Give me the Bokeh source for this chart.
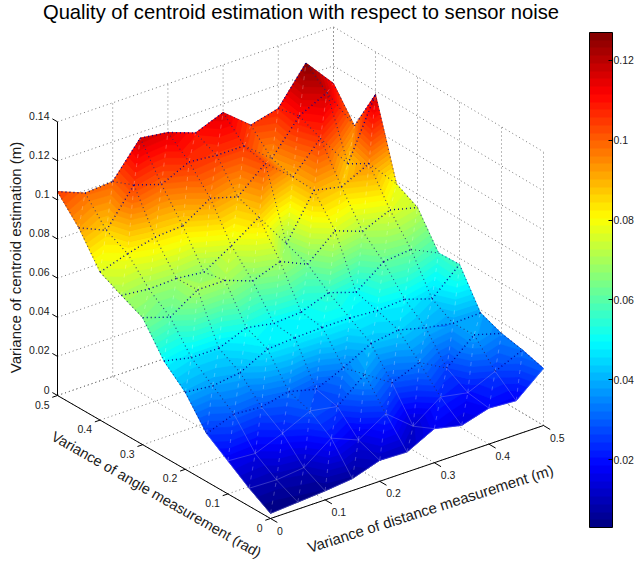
import math
from bokeh.plotting import figure
from bokeh.embed import file_html
from bokeh.resources import INLINE
from bokeh.core.properties import value
from bokeh.models import Range1d, ColorBar, LinearColorMapper, FixedTicker

x_grid = [0.0, 0.05, 0.1, 0.15, 0.2, 0.25, 0.3, 0.35, 0.4, 0.45, 0.5]
y_grid = [0.0, 0.05, 0.1, 0.15, 0.2, 0.25, 0.3, 0.35, 0.4, 0.45, 0.5]
z_y00 = [.0026, .0036, .0046, .0061, .0107, .0102, .0174, .0143, .0184, .0174, .0292]
z_y05 = [.0092, .0087, .0102, .0205, .0148, .0235, .0123, .0225, .0199, .0261, .0322]
z_y10 = [.0169, .0159, .0215, .0281, .0256, .0373, .0281, .0338, .0261, .0384, .0343]
z_y15 = [.0246, .0297, .0286, .0317, .0281, .0343, .0419, .0440, .0404, .0379, .0384]
z_y20 = [.0394, .0379, .0399, .0471, .0481, .0486, .0486, .0476, .0486, .0440, .0568]
z_y25 = [.0491, .0460, .0460, .0517, .0491, .0501, .0552, .0506, .0614, .0629, .0563]
z_y30 = [.0650, .0604, .0696, .0696, .0645, .0696, .0634, .0757, .0706, .0767, .0731]
z_y35 = [.0701, .0685, .0691, .0675, .0762, .0859, .0675, .0900, .0870, .0941, .0788]
z_y40 = [.0757, .0803, .0839, .0849, .0941, .0900, .1023, .0905, .1054, .0875, .1182]
z_y45 = [.0921, .0859, .1043, .0997, .1064, .1049, .1049, .0936, .1105, .1176, .0957]
z_y50 = [.1043, .0987, .0997, .1171, .1151, .1100, .1156, .1043, .1079, .1263, .1110]
z_rows = [z_y00, z_y05, z_y10, z_y15, z_y20, z_y25, z_y30, z_y35, z_y40, z_y45, z_y50]

x_ticks = [0, 0.1, 0.2, 0.3, 0.4, 0.5]
x_tick_labels = ["0", "0.1", "0.2", "0.3", "0.4", "0.5"]
y_ticks = [0, 0.1, 0.2, 0.3, 0.4, 0.5]
y_tick_labels = ["0", "0.1", "0.2", "0.3", "0.4", "0.5"]
z_ticks = [0, 0.02, 0.04, 0.06, 0.08, 0.1, 0.12, 0.14]
z_tick_labels = ["0", "0.02", "0.04", "0.06", "0.08", "0.1", "0.12", "0.14"]
cb_ticks = [0.02, 0.04, 0.06, 0.08, 0.1, 0.12]
cb_tick_labels = ["0.02", "0.04", "0.06", "0.08", "0.1", "0.12"]
c_low, c_high = 0.003, 0.127

title = "Quality of centroid estimation with respect to sensor noise"
x_title = "Variance of distance measurement (m)"
y_title = "Variance of angle measurement (rad)"
z_title = "Variance of centroid estimation (m)"

FONT = value("Liberation Sans")
TXT = "#1a1a1a"


def px(x, y, z=0.0):
    u, v = x / 0.05, y / 0.05
    return 270 + 27.3 * u - 21.3 * v + 0.03 * u * v


def py(x, y, z=0.0):
    u, v = x / 0.05, y / 0.05
    return 518 - 9.3 * u - 12.3 * v - 0.02 * u * v - 1955 * z


def jet(n):
    out = []
    for k in range(n):
        t = (k + 0.5) / n * 4
        r = min(max(min(t - 1.5, 4.5 - t), 0), 1)
        g = min(max(min(t - 0.5, 3.5 - t), 0), 1)
        b = min(max(min(t + 0.5, 2.5 - t), 0), 1)
        out.append("#%02x%02x%02x" % (round(r * 255), round(g * 255), round(b * 255)))
    return out


palette = jet(64)


def clip(poly, level, keep_above):
    res = []
    n = len(poly)
    for k in range(n):
        a, b = poly[k], poly[(k + 1) % n]
        ina = a[2] >= level if keep_above else a[2] <= level
        inb = b[2] >= level if keep_above else b[2] <= level
        if ina:
            res.append(a)
        if ina != inb:
            t = (level - a[2]) / (b[2] - a[2])
            res.append(tuple(a[m] + t * (b[m] - a[m]) for m in range(3)))
    return res


p = figure(width=637, height=562, x_range=Range1d(0, 637), y_range=Range1d(562, 0),
           output_backend="svg", toolbar_location=None, min_border=0,
           margin=(0, 0, 0, 0), outline_line_color=None)
p.axis.visible = False
p.grid.visible = False
p.background_fill_alpha = 0
p.border_fill_alpha = 0

# wall and floor grid
gx, gy = [], []
for t in x_ticks:
    gx.append([px(t, 0), px(t, 0.5)]); gy.append([py(t, 0), py(t, 0.5)])
    gx.append([px(t, 0.5), px(t, 0.5)]); gy.append([py(t, 0.5), py(t, 0.5, 0.14)])
for t in y_ticks:
    gx.append([px(0, t), px(0.5, t)]); gy.append([py(0, t), py(0.5, t)])
    gx.append([px(0.5, t), px(0.5, t)]); gy.append([py(0.5, t), py(0.5, t, 0.14)])
for t in z_ticks:
    gx.append([px(0, 0.5), px(0.5, 0.5), px(0.5, 0)])
    gy.append([py(0, 0.5, t), py(0.5, 0.5, t), py(0.5, 0, t)])
p.multi_line(gx, gy, line_color="#777777", line_width=1, line_dash="1 3")

# surface as iso-coloured bands of the triangulated grid
n = len(x_grid)
sxs, sys, cols = [], [], []
txs, tys, tcols = [], [], []
step = (c_high - c_low) / 64


def add_tri(verts):
    zs = [v[2] for v in verts]
    lo = max(int((min(zs) - c_low) / step), 0)
    hi = min(int((max(zs) - c_low) / step), 63)
    txs.append([px(q[0], q[1]) for q in verts])
    tys.append([py(q[0], q[1], q[2]) for q in verts])
    tcols.append(palette[(lo + hi) // 2])
    for b in range(lo, hi + 1):
        poly = verts
        if b > 0:
            poly = clip(poly, c_low + b * step, True)
        if poly and b < 63:
            poly = clip(poly, c_low + (b + 1) * step, False)
        if len(poly) >= 3:
            sxs.append([px(q[0], q[1]) for q in poly])
            sys.append([py(q[0], q[1], q[2]) for q in poly])
            cols.append(palette[b])


for j in range(n - 2, -1, -1):
    for i in range(n - 2, -1, -1):
        a = (x_grid[i], y_grid[j], z_rows[j][i])
        b = (x_grid[i + 1], y_grid[j], z_rows[j][i + 1])
        c = (x_grid[i + 1], y_grid[j + 1], z_rows[j + 1][i + 1])
        d = (x_grid[i], y_grid[j + 1], z_rows[j + 1][i])
        add_tri([a, c, d])
        add_tri([a, b, c])
p.patches(txs, tys, fill_color=tcols, line_color=tcols, line_width=0.5, line_join="round")
p.patches(sxs, sys, fill_color=cols, line_color=cols, line_width=0.5, line_join="round")

# panel seams: strong where a seam rises to the right on screen, faint where it falls
seams = {"strong": ([], []), "faint": ([], []), "low": ([], []), "diag": ([], [])}


def add_seam(A, B):
    xa, xb = px(A[0], A[1]), px(B[0], B[1])
    ya, yb = py(A[0], A[1], A[2]), py(B[0], B[1], B[2])
    if xa > xb:
        xa, xb, ya, yb = xb, xa, yb, ya
    if (A[2] + B[2]) / 2 <= 0.027:
        key = "low"
    elif (yb - ya) / (xb - xa) < 0.1:
        key = "strong"
    else:
        key = "faint"
    seams[key][0].append([xa, xb])
    seams[key][1].append([ya, yb])


for j in range(n):
    for i in range(n):
        A = (x_grid[i], y_grid[j], z_rows[j][i])
        if i < n - 1:
            add_seam(A, (x_grid[i + 1], y_grid[j], z_rows[j][i + 1]))
        if j < n - 1:
            add_seam(A, (x_grid[i], y_grid[j + 1], z_rows[j + 1][i]))
        if i < n - 1 and j < n - 1:
            B = (x_grid[i + 1], y_grid[j + 1], z_rows[j + 1][i + 1])
            seams["diag"][0].append([px(A[0], A[1]), px(B[0], B[1])])
            seams["diag"][1].append([py(A[0], A[1], A[2]), py(B[0], B[1], B[2])])
p.multi_line(*seams["diag"], line_color="#ffffff", line_alpha=0.25, line_width=1, line_dash="4 5")
p.multi_line(*seams["low"], line_color="#c8cce8", line_alpha=0.45, line_width=0.6)
p.multi_line(*seams["faint"], line_color="#202070", line_alpha=0.8, line_width=1.1, line_dash="1 3")
p.multi_line(*seams["strong"], line_color="#000090", line_alpha=0.95, line_width=1.4, line_dash="1 3")

# axis lines and ticks
ax, ay = [], []
ax.append([px(0, 0.5), px(0, 0), px(0.5, 0)]); ay.append([py(0, 0.5), py(0, 0), py(0.5, 0)])
ax.append([px(0, 0.5), px(0, 0.5)]); ay.append([py(0, 0.5), py(0, 0.5, 0.14)])
for t in x_ticks:
    ax.append([px(t, 0), px(t, -0.016)]); ay.append([py(t, 0), py(t, -0.016)])
for t in y_ticks:
    ax.append([px(0, t), px(-0.0095, t)]); ay.append([py(0, t), py(-0.0095, t)])
for t in z_ticks:
    ax.append([px(0, 0.5), px(0, 0.512)]); ay.append([py(0, 0.5, t), py(0, 0.512, t)])
p.multi_line(ax, ay, line_color="#000000", line_width=1)

TS = "10.5px"
p.text([px(t, 0) for t in x_ticks], [py(t, 0) for t in x_ticks], text=x_tick_labels,
       x_offset=6.5, y_offset=12, text_align="left", text_baseline="middle",
       text_font=FONT, text_font_size=TS, text_color=TXT)
p.text([px(0, t) for t in y_ticks], [py(0, t) for t in y_ticks], text=y_tick_labels,
       x_offset=-8, y_offset=9, text_align="right", text_baseline="middle",
       text_font=FONT, text_font_size=TS, text_color=TXT)
p.text([px(0, 0.5)] * len(z_ticks), [py(0, 0.5, t) for t in z_ticks], text=z_tick_labels,
       x_offset=-8, y_offset=-6, text_align="right", text_baseline="middle",
       text_font=FONT, text_font_size=TS, text_color=TXT)

# titles
p.text([300.5], [11], text=[title], text_align="center", text_baseline="middle",
       text_font=FONT, text_font_size="20.2px", text_color="#000000")
p.text([430], [508], text=[x_title], angle=0.31, text_align="center", text_baseline="middle",
       text_font=FONT, text_font_size="15px", text_color=TXT)
p.text([156], [494], text=[y_title], angle=-0.52, text_align="center", text_baseline="middle",
       text_font=FONT, text_font_size="14.5px", text_color=TXT)
p.text([14.5], [257], text=[z_title], angle=math.pi / 2, text_align="center", text_baseline="middle",
       text_font=FONT, text_font_size="15px", text_color=TXT)

# colour bar
BAR_L, BAR_R, BAR_T, BAR_B = 589, 612, 32, 527
mapper = LinearColorMapper(palette=palette, low=c_low, high=c_high)
cb = ColorBar(color_mapper=mapper, ticker=FixedTicker(ticks=cb_ticks),
              major_label_overrides=dict(zip(cb_ticks, cb_tick_labels)),
              location=(BAR_L, 562 - BAR_B), width=BAR_R - BAR_L, height=BAR_B - BAR_T,
              padding=0, margin=0, background_fill_alpha=0, border_line_color=None,
              bar_line_color="#000000", bar_line_width=1,
              major_tick_line_color="#000000", major_tick_in=4, major_tick_out=0,
              minor_tick_line_color=None, label_standoff=1,
              major_label_text_font="Liberation Sans", major_label_text_font_size=TS,
              major_label_text_color=TXT)
p.add_layout(cb, "center")
cb_pos = [BAR_B - (t - c_low) / (c_high - c_low) * (BAR_B - BAR_T) for t in cb_ticks]
p.segment([BAR_L] * len(cb_ticks), cb_pos, [BAR_L + 4] * len(cb_ticks), cb_pos,
          line_color="#000000", line_width=1)

open("out.html", "w").write(file_html(p, INLINE))
